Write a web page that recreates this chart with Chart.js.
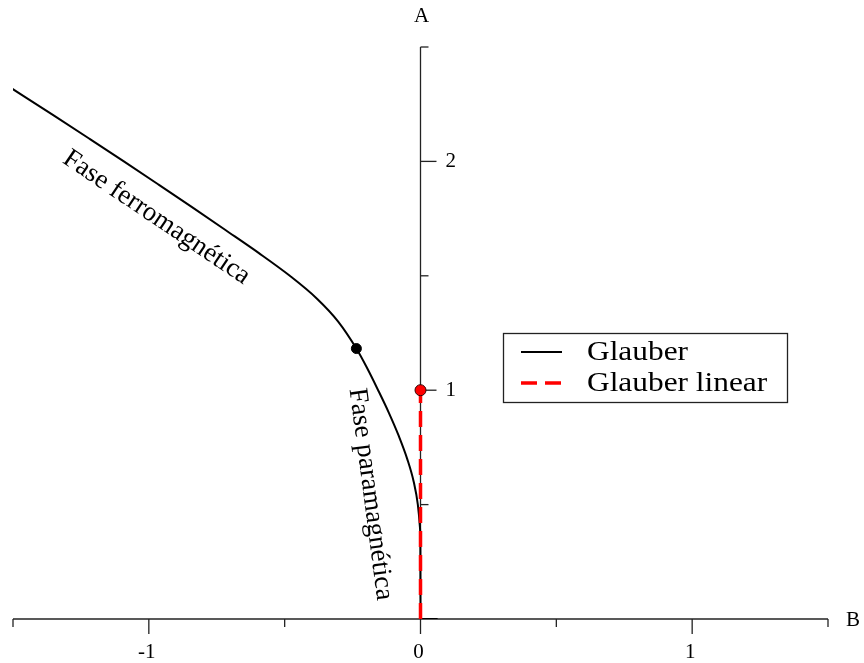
<!DOCTYPE html>
<html>
<head>
<meta charset="utf-8">
<script src="https://cdn.jsdelivr.net/npm/chart.js@4/dist/chart.umd.min.js"></script>
<style>
  html, body { margin: 0; padding: 0; background: #ffffff; }
  #wrap { width: 864px; height: 663px; position: relative; }
</style>
</head>
<body>
<div id="wrap"><canvas id="c" width="864" height="663"></canvas></div>
<script>
// ---- data ----
const glauberB = [-1.506, -1.349, -1.22, -1.092, -0.966, -0.841, -0.718, -0.596, -0.481, -0.381, -0.303, -0.236, -0.198, -0.156, -0.116, -0.080, -0.049, -0.025, -0.0098, -0.002, -0.0004, 0, 0.063];
const glauberA = [2.32, 2.2, 2.1, 2.0, 1.9, 1.8, 1.7, 1.6, 1.5, 1.4, 1.3, 1.182, 1.1, 1.0, 0.9, 0.8, 0.7, 0.6, 0.5, 0.4, 0.3, 0, 0];
const linearB = [0, 0];
const linearA = [0, 1];
const critGlauberB = [-0.236];
const critGlauberA = [1.182];
const critLinearB = [0];
const critLinearA = [1];
const xTickValues = [-1.5, -1, -0.5, 0, 0.5, 1, 1.5];
const xTickLabels = ['', '-1', '', '0', '', '1', ''];
const yTickValues = [0.5, 1, 1.5, 2, 2.5];
const yTickLabels = ['', '1', '', '2', ''];
const seriesNames = ['Glauber', 'Glauber linear'];
const axisTitles = ['B', 'A'];
const annotations = ['Fase ferromagnética', 'Fase paramagnética'];

const toPts = (xs, ys) => xs.map((x, i) => ({ x: x, y: ys[i] }));
const SERIF = '"Liberation Serif", "DejaVu Serif", serif';

const axesPlugin = {
  id: 'axesPlugin',
  beforeDatasetsDraw(chart) {
    const ctx = chart.ctx;
    const xs = chart.scales.x, ys = chart.scales.y;
    const x0 = xs.getPixelForValue(0), y0 = ys.getPixelForValue(0);
    ctx.save();
    ctx.strokeStyle = '#222';
    ctx.lineWidth = 1.3;
    ctx.fillStyle = '#000';
    // x axis
    ctx.beginPath();
    ctx.moveTo(xs.getPixelForValue(xs.min), y0);
    ctx.lineTo(xs.getPixelForValue(xs.max), y0);
    ctx.stroke();
    ctx.font = '21px ' + SERIF;
    ctx.textAlign = 'center';
    ctx.textBaseline = 'middle';
    xTickValues.forEach((v, i) => {
      const px = xs.getPixelForValue(v);
      const len = xTickLabels[i] ? 15 : 8;
      ctx.beginPath();
      ctx.moveTo(px, y0);
      ctx.lineTo(px, y0 + len);
      ctx.stroke();
      if (xTickLabels[i]) ctx.fillText(xTickLabels[i], px - 2, y0 + 33);
    });
    // y axis
    ctx.beginPath();
    ctx.moveTo(x0, ys.getPixelForValue(0));
    ctx.lineTo(x0, ys.getPixelForValue(ys.max));
    ctx.stroke();
    ctx.textAlign = 'left';
    yTickValues.forEach((v, i) => {
      const py = ys.getPixelForValue(v);
      const len = yTickLabels[i] ? 16 : 8;
      ctx.beginPath();
      ctx.moveTo(x0, py);
      ctx.lineTo(x0 + len, py);
      ctx.stroke();
      if (yTickLabels[i]) ctx.fillText(yTickLabels[i], x0 + 25, py);
    });
    // axis titles
    ctx.textAlign = 'center';
    ctx.fillText(axisTitles[0], xs.getPixelForValue(xs.max) + 25, y0 + 1);
    ctx.fillText(axisTitles[1], x0 + 1, ys.getPixelForValue(ys.max) - 31);
    ctx.restore();
  },
  afterDraw(chart) {
    const ctx = chart.ctx;
    const xs = chart.scales.x, ys = chart.scales.y;
    ctx.save();
    ctx.fillStyle = '#000';
    ctx.font = '27px ' + SERIF;
    ctx.textAlign = 'center';
    ctx.textBaseline = 'middle';
    // ferromagnetic label
    ctx.save();
    ctx.translate(xs.getPixelForValue(-0.972), ys.getPixelForValue(1.755));
    ctx.rotate(34 * Math.PI / 180);
    ctx.fillText(annotations[0], 0, 0);
    ctx.restore();
    // paramagnetic label
    ctx.save();
    ctx.translate(xs.getPixelForValue(-0.184), ys.getPixelForValue(0.545));
    ctx.rotate(82.5 * Math.PI / 180);
    ctx.fillText(annotations[1], 0, 0);
    ctx.restore();
    // legend
    const bx = 503, by = 333, bw = 284, bh = 69;
    ctx.lineWidth = 1.3;
    ctx.strokeStyle = '#222';
    ctx.strokeRect(bx + 0.5, by + 0.5, bw, bh);
    const ds = chart.data.datasets;
    const rows = [{ d: ds[0], y: by + 19 }, { d: ds[1], y: by + 50 }];
    ctx.font = '28px ' + SERIF;
    ctx.textAlign = 'left';
    rows.forEach((r, i) => {
      ctx.beginPath();
      ctx.strokeStyle = r.d.borderColor;
      ctx.lineWidth = r.d.borderWidth;
      ctx.setLineDash(r.d.borderDash || []);
      ctx.moveTo(bx + 18, r.y);
      ctx.lineTo(bx + 59, r.y);
      ctx.stroke();
      ctx.setLineDash([]);
      ctx.fillStyle = '#000';
      ctx.save();
      ctx.translate(bx + 84, r.y + 1);
      ctx.scale(1.12, 1);
      ctx.fillText(seriesNames[i], 0, 0);
      ctx.restore();
    });
    ctx.restore();
  }
};

new Chart(document.getElementById('c'), {
  type: 'scatter',
  data: {
    datasets: [
      {
        label: seriesNames[0],
        data: toPts(glauberB, glauberA),
        showLine: true,
        borderColor: '#000',
        borderWidth: 2,
        pointRadius: 0,
        cubicInterpolationMode: 'monotone',
        order: 3
      },
      {
        label: seriesNames[1],
        data: toPts(linearB, linearA),
        showLine: true,
        borderColor: '#ff0000',
        borderWidth: 3.5,
        borderDash: [16, 8],
        pointRadius: 0,
        order: 2
      },
      {
        label: 'crit-glauber',
        data: toPts(critGlauberB, critGlauberA),
        showLine: false,
        pointRadius: 5,
        backgroundColor: '#000',
        borderColor: '#000',
        borderWidth: 1,
        order: 1
      },
      {
        label: 'crit-linear',
        data: toPts(critLinearB, critLinearA),
        showLine: false,
        pointRadius: 5.5,
        backgroundColor: '#ff0000',
        borderColor: '#300',
        borderWidth: 1,
        order: 0
      }
    ]
  },
  options: {
    responsive: false,
    animation: false,
    layout: { padding: { left: 13, right: 36, top: 47, bottom: 44 } },
    plugins: { legend: { display: false }, tooltip: { enabled: false } },
    scales: {
      x: { type: 'linear', min: -1.5, max: 1.5, display: false },
      y: { type: 'linear', min: 0, max: 2.5, display: false }
    }
  },
  plugins: [axesPlugin]
});
</script>
</body>
</html>
